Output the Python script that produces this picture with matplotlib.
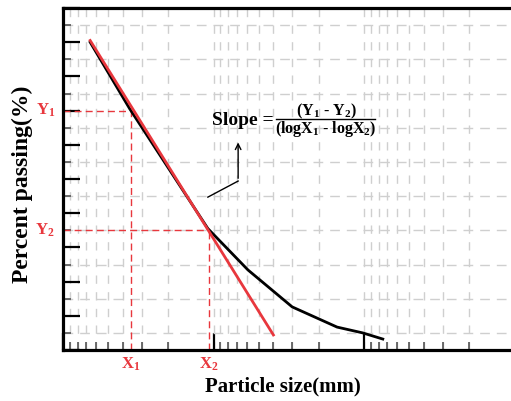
import numpy as np
import matplotlib
matplotlib.use("Agg")
import matplotlib.pyplot as plt
from matplotlib.ticker import LogLocator, MultipleLocator, NullFormatter

plt.rcParams['font.family'] = ['Liberation Serif', 'DejaVu Serif']
plt.rcParams['font.weight'] = 'bold'
plt.rcParams['mathtext.fontset'] = 'custom'
plt.rcParams['mathtext.rm'] = 'Liberation Serif:bold'
plt.rcParams['mathtext.it'] = 'Liberation Serif:bold'
plt.rcParams['mathtext.bf'] = 'Liberation Serif:bold'

# gradation curve (particle size in mm, percent passing)
size_mm = [66, 36, 10.9, 5.9, 3.0, 1.51, 1.02, 0.75]
passing = [90, 70.5, 35.5, 23.4, 12.6, 6.7, 5.0, 3.2]

# tangent line
tan_x = [66, 4.0]
tan_y = [90.5, 4.4]

X1, X2 = 35.5, 10.7
Y1, Y2 = 70, 35

red = '#e8373d'

fig = plt.figure(figsize=(5.11, 4.01), dpi=100)
ax = fig.add_axes([63/511, 1-350/401, 1-63/511, (350-8)/401])

ax.set_xscale('log')
ax.set_xlim(100, 100/10**((511-63)/150.5))
ax.set_ylim(0, 100)

ax.plot(size_mm, passing, color='black', lw=2, zorder=3)
ax.plot(tan_x, tan_y, color=red, lw=2, zorder=4)

# guide lines
dash = dict(color=red, lw=1, ls=(0, (5, 3)), zorder=2)
ax.plot([100, X1], [Y1, Y1], **dash)
ax.plot([X1, X1], [0, Y1], **dash)
ax.plot([100, X2], [Y2, Y2], **dash)
ax.plot([X2, X2], [0, Y2], **dash)

# ticks and grid
ax.xaxis.set_major_locator(LogLocator(base=10))
ax.xaxis.set_minor_locator(LogLocator(base=10, subs=np.arange(2, 10)))
ax.xaxis.set_major_formatter(NullFormatter())
ax.xaxis.set_minor_formatter(NullFormatter())
ax.yaxis.set_major_locator(MultipleLocator(10))
ax.yaxis.set_minor_locator(MultipleLocator(5))
ax.set_yticklabels([])
ax.grid(which='both', axis='x', color='#cfcfcf', lw=1, ls=(0, (6, 6)), zorder=0)
ax.grid(which='minor', axis='y', color='#cfcfcf', lw=1, ls=(0, (7, 5)), zorder=0)

ax.tick_params(which='major', direction='in', length=12, width=1.6, color='black')
ax.tick_params(which='minor', direction='in', length=6, width=1.2, color='#555555')
ax.tick_params(top=False, right=False)

for s in ['left', 'bottom', 'top']:
    ax.spines[s].set_linewidth(2.3)
ax.spines['right'].set_visible(False)

# labels
xl = 100/10**(-8/150.5)
ax.text(xl, Y1, 'Y$_{1}$', color=red, fontsize=12, ha='right', va='center', clip_on=False)
ax.text(xl, Y2, 'Y$_{2}$', color=red, fontsize=12, ha='right', va='center', clip_on=False)
ax.text(X1, -4.2, 'X$_{1}$', color=red, fontsize=12, ha='center', va='center', clip_on=False)
ax.text(X2, -4.2, 'X$_{2}$', color=red, fontsize=12, ha='center', va='center', clip_on=False)

ax.set_xlabel('Particle size(mm)', fontsize=15, fontweight='bold')
ax.set_ylabel('Percent passing(%)', fontsize=17, fontweight='bold')
ax.xaxis.set_label_coords((283-63)/448, -(376-350)/342)
ax.yaxis.set_label_coords(-(63-33)/448, (350-184)/342)

# slope formula
ax.text(3.96, 67.0, 'Slope =', fontsize=14, ha='right', va='center', zorder=5)
ax.text(1.79, 69.8, '(Y$_1$ - Y$_2$)', fontsize=11.5, ha='center', va='center', zorder=5)
ax.text(1.79, 64.6, '(logX$_1$ - logX$_2$)', fontsize=11.5, ha='center', va='center', zorder=5)
ax.plot([3.84, 0.845], [67.4, 67.4], color='black', lw=1)

ax.plot([10.9, 6.86], [44.7, 49.4], color='black', lw=1)
ax.annotate('', xy=(6.86, 61.5), xytext=(6.86, 49.4),
            arrowprops=dict(arrowstyle='->', color='black', lw=1))

fig.savefig('out.png', dpi=100)
